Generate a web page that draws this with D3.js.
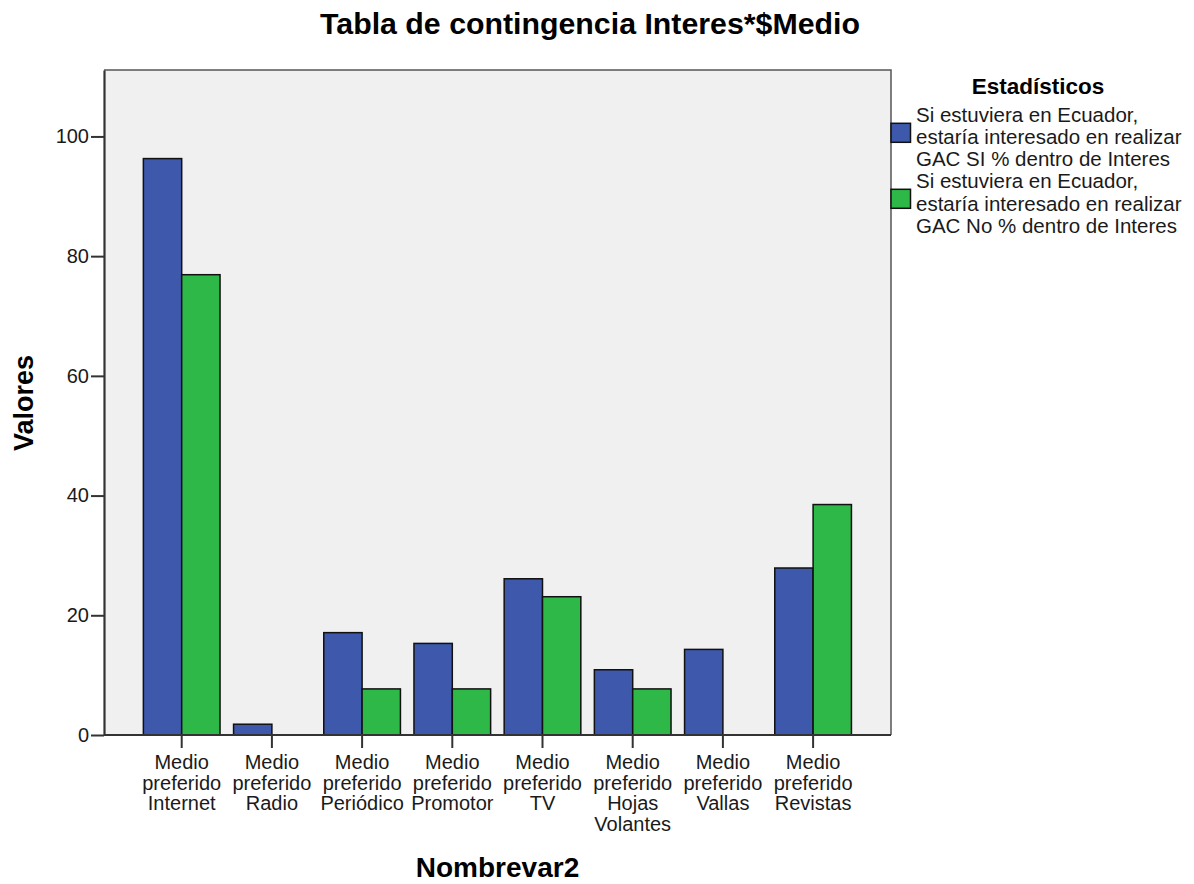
<!DOCTYPE html>
<html>
<head>
<meta charset="utf-8">
<script src="https://cdn.jsdelivr.net/npm/d3@7"></script>
<style>
  html, body { margin: 0; padding: 0; background: #ffffff; }
  svg { display: block; font-family: "Liberation Sans", Arial, sans-serif; }
</style>
</head>
<body>
<svg id="chart" width="1194" height="884"></svg>
<script>
// ---- data ----
const categories = ["Internet", "Radio", "Periódico", "Promotor", "TV", "Hojas Volantes", "Vallas", "Revistas"];
const categoryLabels = [
  ["Medio", "preferido", "Internet"],
  ["Medio", "preferido", "Radio"],
  ["Medio", "preferido", "Periódico"],
  ["Medio", "preferido", "Promotor"],
  ["Medio", "preferido", "TV"],
  ["Medio", "preferido", "Hojas", "Volantes"],
  ["Medio", "preferido", "Vallas"],
  ["Medio", "preferido", "Revistas"]
];
const seriesNames = ["SI", "No"];
const valuesSI = [96.3, 1.8, 17.1, 15.3, 26.1, 10.9, 14.3, 27.9];
const valuesNo = [76.9, 0, 7.7, 7.7, 23.1, 7.7, 0, 38.5];
const yTicks = [0, 20, 40, 60, 80, 100];
const legendLabels = [
  ["Si estuviera en Ecuador,", "estaría interesado en realizar", "GAC SI % dentro de Interes"],
  ["Si estuviera en Ecuador,", "estaría interesado en realizar", "GAC No % dentro de Interes"]
];
const colors = ["#3E58AC", "#2EB848"];

// ---- layout ----
const svg = d3.select("#chart");
const plot = { left: 104, right: 891, top: 70, bottom: 735 };

const y = d3.scaleLinear().domain([0, 111.1]).range([plot.bottom, plot.top]);
const x = d3.scaleBand().domain(categories).range([136.6, 858.2])
  .paddingInner(0.15).paddingOuter(0.075);
const xs = d3.scaleBand().domain(seriesNames).range([0, x.bandwidth()]);

// background
svg.append("rect")
  .attr("x", plot.left).attr("y", plot.top)
  .attr("width", plot.right - plot.left).attr("height", plot.bottom - plot.top)
  .attr("fill", "#F0F0F0");

// frame top/right
svg.append("path")
  .attr("d", `M${plot.left},${plot.top}H${plot.right}V${plot.bottom}`)
  .attr("fill", "none").attr("stroke", "#555").attr("stroke-width", 1.5);

// bars
const rows = categories.map((c, i) => ({ c, vals: [valuesSI[i], valuesNo[i]] }));
const g = svg.append("g");
rows.forEach(r => {
  r.vals.forEach((v, j) => {
    if (v <= 0) return;
    g.append("rect")
      .attr("x", x(r.c) + xs(seriesNames[j]))
      .attr("y", y(v))
      .attr("width", xs.bandwidth())
      .attr("height", y(0) - y(v))
      .attr("fill", colors[j])
      .attr("stroke", "#111")
      .attr("stroke-width", 1.5);
  });
});

// y axis
const yAxis = d3.axisLeft(y).tickValues(yTicks).tickSize(13).tickPadding(2).tickSizeOuter(0);
const yg = svg.append("g").attr("transform", `translate(${plot.left},0)`).call(yAxis);
yg.select(".domain").attr("stroke", "#333").attr("stroke-width", 2.2);
yg.selectAll(".tick line").attr("stroke", "#333").attr("stroke-width", 2);
yg.selectAll(".tick text").attr("font-size", 20).attr("fill", "#1a1a1a")
  .attr("font-family", "Liberation Sans, Arial, sans-serif");

// x axis
const xAxis = d3.axisBottom(x).tickSize(13).tickSizeOuter(0).tickFormat("");
const xg = svg.append("g").attr("transform", `translate(0,${plot.bottom})`).call(xAxis);
xg.select(".domain").attr("d", `M${plot.left},0H${plot.right}`).attr("stroke", "#333").attr("stroke-width", 2);
xg.selectAll(".tick line").attr("stroke", "#333").attr("stroke-width", 2);

// category labels
categories.forEach((c, i) => {
  const t = svg.append("text")
    .attr("x", x(c) + x.bandwidth() / 2)
    .attr("y", 769)
    .attr("text-anchor", "middle")
    .attr("font-size", 20)
    .attr("fill", "#1a1a1a");
  categoryLabels[i].forEach((line, k) => {
    t.append("tspan").attr("x", x(c) + x.bandwidth() / 2).attr("dy", k === 0 ? 0 : 20.7).text(line);
  });
});

// title
svg.append("text").attr("x", 590).attr("y", 34).attr("text-anchor", "middle")
  .attr("font-size", 30.3).attr("font-weight", "bold").attr("fill", "#000")
  .text("Tabla de contingencia Interes*$Medio");

// axis titles
svg.append("text").attr("x", 497.5).attr("y", 877).attr("text-anchor", "middle")
  .attr("font-size", 28).attr("font-weight", "bold").attr("fill", "#000")
  .text("Nombrevar2");
svg.append("text").attr("transform", "translate(33,403) rotate(-90)").attr("text-anchor", "middle")
  .attr("font-size", 27).attr("font-weight", "bold").attr("fill", "#000")
  .text("Valores");

// legend
svg.append("text").attr("x", 1038).attr("y", 94).attr("text-anchor", "middle")
  .attr("font-size", 22.5).attr("font-weight", "bold").attr("fill", "#000")
  .text("Estadísticos");
const legendTop = [121.7, 188.3];
const swatchY = [123.3, 189.3];
legendLabels.forEach((lines, j) => {
  svg.append("rect").attr("x", 891).attr("y", swatchY[j]).attr("width", 19.5).attr("height", 19)
    .attr("fill", colors[j]).attr("stroke", "#111").attr("stroke-width", 1.5);
  const t = svg.append("text").attr("x", 916).attr("y", legendTop[j])
    .attr("font-size", 20.5).attr("fill", "#1a1a1a");
  lines.forEach((line, k) => {
    t.append("tspan").attr("x", 916).attr("dy", k === 0 ? 0 : 22.2).text(line);
  });
});
</script>
</body>
</html>
